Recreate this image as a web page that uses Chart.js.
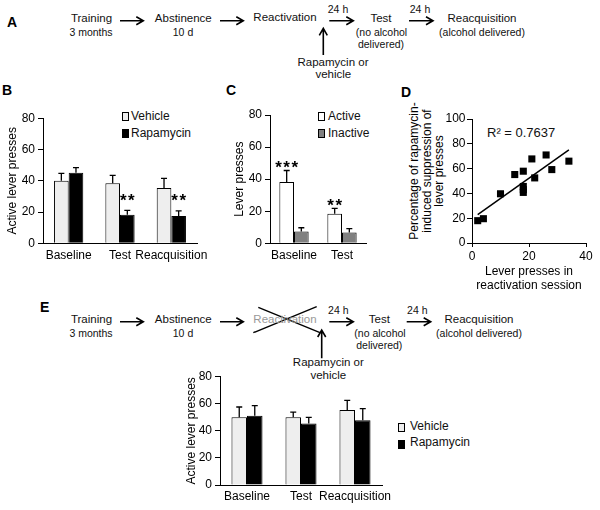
<!DOCTYPE html>
<html><head><meta charset="utf-8">
<script src="https://cdn.jsdelivr.net/npm/chart.js@4"></script>
<style>
html,body{margin:0;padding:0;background:#fff;}
#root{position:relative;width:600px;height:510px;overflow:hidden;font-family:'Liberation Sans',Arial,sans-serif;color:#111;}
.t{position:absolute;transform:translate(-50%,-50%);white-space:nowrap;line-height:1;font-size:11.5px;}
.s{font-size:10.5px;}
.h{font-size:10.5px;}
.lbl{position:absolute;font-weight:bold;font-size:14px;line-height:1;transform:translateY(-50%);color:#000;}
.lg{position:absolute;font-size:12px;line-height:1;white-space:nowrap;transform:translateY(-50%);}
.box{position:absolute;box-sizing:border-box;border:1px solid #000;width:7px;height:9px;}
canvas{position:absolute;}
#dtitle{position:absolute;left:427px;top:171px;transform:translate(-50%,-50%) rotate(-90deg);text-align:center;font-size:12px;line-height:12.5px;white-space:nowrap;color:#000;}
</style></head>
<body>
<div id="root">
<svg width="600" height="510" style="position:absolute;left:0;top:0" fill="none" stroke="#000" stroke-width="1.6">
  <path d="M120 20.7H143.3M136.3 16.7L143.3 20.7L136.3 24.7"/>
  <path d="M220 20.7H243.3M236.3 16.7L243.3 20.7L236.3 24.7"/>
  <path d="M329.3 20.7H353.3M346.3 16.7L353.3 20.7L346.3 24.7"/>
  <path d="M409 20.7H433M426 16.7L433 20.7L426 24.7"/>
  <path d="M323.3 55V28.3M319.3 35.3L323.3 28.3L327.3 35.3"/>
  <path d="M120 321.7H143.3M136.3 317.7L143.3 321.7L136.3 325.7"/>
  <path d="M220 321.7H243.3M236.3 317.7L243.3 321.7L236.3 325.7"/>
  <path d="M329.3 321.7H353.3M346.3 317.7L353.3 321.7L346.3 325.7"/>
  <path d="M406.7 321.7H430.7M423.7 317.7L430.7 321.7L423.7 325.7"/>
  <path d="M321.7 358.3V330M317.7 337L321.7 330L325.7 337"/>
  <path d="M253.3 332.7L316.7 306.7M258.3 307.3L320 332.7" stroke-width="1.4"/>
</svg>

<div class="lbl" style="left:7px;top:22px">A</div>
<div class="t" style="left:91.5px;top:19px">Training</div>
<div class="t s" style="left:91px;top:32.3px">3 months</div>
<div class="t" style="left:183.3px;top:19px">Abstinence</div>
<div class="t s" style="left:183px;top:32.3px">10 d</div>
<div class="t" style="left:285px;top:18.3px">Reactivation</div>
<div class="t h" style="left:338px;top:9px">24 h</div>
<div class="t" style="left:381px;top:19px">Test</div>
<div class="t s" style="left:381.5px;top:32.3px">(no alcohol</div>
<div class="t s" style="left:381px;top:44px">delivered)</div>
<div class="t h" style="left:420px;top:9px">24 h</div>
<div class="t" style="left:482px;top:19px">Reacquisition</div>
<div class="t s" style="left:482px;top:31.5px">(alcohol delivered)</div>
<div class="t" style="left:333px;top:62.7px">Rapamycin or</div>
<div class="t" style="left:333.3px;top:75px">vehicle</div>

<div class="lbl" style="left:2px;top:90px">B</div>
<div class="lbl" style="left:226px;top:90px">C</div>
<div class="lbl" style="left:401px;top:92px">D</div>

<div class="lbl" style="left:40px;top:307px">E</div>
<div class="t" style="left:91.5px;top:320px">Training</div>
<div class="t s" style="left:91px;top:333.3px">3 months</div>
<div class="t" style="left:183.3px;top:320px">Abstinence</div>
<div class="t s" style="left:183px;top:333.3px">10 d</div>
<div class="t" style="left:285px;top:320px;color:#999">Reactivation</div>
<div class="t h" style="left:338.3px;top:310px">24 h</div>
<div class="t" style="left:379.3px;top:320px">Test</div>
<div class="t s" style="left:380px;top:333.3px">(no alcohol</div>
<div class="t s" style="left:379.3px;top:345px">delivered)</div>
<div class="t h" style="left:417.3px;top:310px">24 h</div>
<div class="t" style="left:479px;top:320px">Reacquisition</div>
<div class="t s" style="left:479px;top:332.5px">(alcohol delivered)</div>
<div class="t" style="left:328.3px;top:362.7px">Rapamycin or</div>
<div class="t" style="left:328.3px;top:376px">vehicle</div>

<div class="box" style="left:122px;top:111.5px;background:#eeeeee"></div>
<div class="lg" style="left:131px;top:115.5px">Vehicle</div>
<div class="box" style="left:122px;top:129px;background:#000"></div>
<div class="lg" style="left:131px;top:133px">Rapamycin</div>

<div class="box" style="left:318px;top:111.5px;background:#fff"></div>
<div class="lg" style="left:328px;top:115.5px">Active</div>
<div class="box" style="left:318px;top:129px;background:#808080"></div>
<div class="lg" style="left:328px;top:133px">Inactive</div>

<div class="box" style="left:398px;top:423px;background:#eeeeee"></div>
<div class="lg" style="left:410px;top:426px">Vehicle</div>
<div class="box" style="left:398px;top:440px;background:#000"></div>
<div class="lg" style="left:410px;top:442px">Rapamycin</div>

<div class="lg" style="left:487px;top:131.7px;font-size:13px">R² = 0.7637</div>
<div id="dtitle">Percentage of rapamycin-<br>induced suppression of<br>lever presses</div>

<canvas id="cB" width="215" height="165" style="left:0px;top:100px"></canvas>
<canvas id="cC" width="150" height="165" style="left:220px;top:100px"></canvas>
<canvas id="cD" width="195" height="196" style="left:400px;top:100px"></canvas>
<canvas id="cE" width="225" height="150" style="left:170px;top:360px"></canvas>
</div>

<script>
// ---- data ----
const barCategories = ['Baseline', 'Test', 'Reacquisition'];
const bVehicle = [40, 38.4, 35.4];
const bVehicleErr = [4.8, 5.1, 6.2];
const bRapamycin = [45.2, 18.3, 17.5];
const bRapamycinErr = [3.2, 2.8, 3.2];
const bRapamycinStars = ['', '**', '**'];

const cCategories = ['Baseline', 'Test'];
const cActive = [38.3, 18.4];
const cActiveErr = [7.1, 3.4];
const cActiveStars = ['***', '**'];
const cInactive = [7.3, 6.8];
const cInactiveErr = [2.4, 2.3];

const dLeverPresses = [2, 4, 10, 15, 18, 18, 18, 18, 21, 22, 26, 28, 34];
const dSuppression = [18, 19.6, 39.7, 55.2, 57.9, 45.6, 43, 40.8, 67.8, 52.5, 71, 59.2, 66];
const dTrendX = [2, 34];
const dTrendY = [22.8, 75.1];

const eVehicle = [50, 50, 55.4];
const eVehicleErr = [7.6, 3.9, 7.1];
const eRapamycin = [51.2, 45.5, 47.8];
const eRapamycinErr = [7.4, 4.5, 8.6];

const barTicks = [0, 20, 40, 60, 80];
const dYTicks = [0, 20, 40, 60, 80, 100];
const dXTicks = [0, 20, 40];

// ---- setup ----
Chart.defaults.font.family = "'Liberation Sans', Arial, sans-serif";
Chart.defaults.font.size = 12;
Chart.defaults.color = '#000';

const errorBars = {
  id: 'errorBars',
  afterDatasetsDraw(chart) {
    const ctx = chart.ctx;
    const yS = chart.scales.y;
    chart.data.datasets.forEach((ds, i) => {
      if (!ds.errors) return;
      const meta = chart.getDatasetMeta(i);
      meta.data.forEach((bar, j) => {
        const top = yS.getPixelForValue(ds.data[j] + ds.errors[j]);
        ctx.save();
        ctx.strokeStyle = '#000';
        ctx.lineWidth = 1.3;
        ctx.beginPath();
        ctx.moveTo(bar.x, bar.y);
        ctx.lineTo(bar.x, top);
        ctx.moveTo(bar.x - 3, top);
        ctx.lineTo(bar.x + 3, top);
        ctx.stroke();
        if (ds.stars && ds.stars[j]) {
          ctx.fillStyle = '#000';
          ctx.font = "bold 17px 'Liberation Sans', Arial, sans-serif";
          ctx.letterSpacing = '1.5px';
          ctx.textAlign = 'center';
          ctx.textBaseline = 'alphabetic';
          ctx.fillText(ds.stars[j], bar.x + 0.75, top - ds.starGap + 9.5);
        }
        ctx.restore();
      });
    });
  }
};

function yAxis(ticks, width, titleText, titlePad, tickLen, tickPad) {
  return {
    min: ticks[0], max: ticks[ticks.length - 1],
    afterBuildTicks(s) { s.ticks = ticks.map(v => ({value: v})); },
    ticks: {padding: tickPad, color: '#000', font: {size: 12}},
    grid: {drawOnChartArea: false, drawTicks: true, tickLength: tickLen, color: '#000', lineWidth: 1},
    border: {display: true, color: '#000', width: 1},
    title: titleText ? {display: true, text: titleText, color: '#000', font: {size: 12}, padding: {top: titlePad, bottom: 0}} : {display: false},
    afterFit(s) { s.width = width; s.paddingTop = 0; s.paddingBottom = 0; }
  };
}
function xCat(height, pad) {
  return {
    offset: true,
    grid: {display: false, drawTicks: false},
    border: {display: true, color: '#000', width: 1},
    ticks: {padding: pad, color: '#000', font: {size: 12}, maxRotation: 0, autoSkip: false},
    afterFit(s) { s.height = height; s.paddingLeft = 0; s.paddingRight = 0; }
  };
}
function barChart(id, labels, datasets, pad, yA, xA) {
  return new Chart(document.getElementById(id), {
    type: 'bar',
    data: {labels, datasets},
    options: {
      responsive: false, animation: false,
      layout: {padding: pad},
      plugins: {legend: {display: false}, tooltip: {enabled: false}},
      scales: {x: xA, y: yA}
    },
    plugins: [errorBars]
  });
}

// B
barChart('cB', barCategories, [
  {data: bVehicle, errors: bVehicleErr, backgroundColor: '#eeeeee', borderColor: '#000', borderWidth: 1, barPercentage: 1, categoryPercentage: 0.57},
  {data: bRapamycin, errors: bRapamycinErr, stars: bRapamycinStars, starGap: 14, backgroundColor: '#000', borderColor: '#000', borderWidth: 1, barPercentage: 1, categoryPercentage: 0.57}
], {top: 18.3, right: 18, bottom: 0, left: 0},
  yAxis(barTicks, 43, 'Active lever presses', 5.3, 5, 3), xCat(21.7, 5.5));

// C
barChart('cC', cCategories, [
  {data: cActive, errors: cActiveErr, stars: cActiveStars, starGap: 7, backgroundColor: '#fff', borderColor: '#000', borderWidth: 1, barPercentage: 1, categoryPercentage: 0.61},
  {data: cInactive, errors: cInactiveErr, backgroundColor: '#808080', borderColor: '#000', borderWidth: 1, barPercentage: 1, categoryPercentage: 0.61}
], {top: 15, right: 4, bottom: 0, left: 0},
  yAxis(barTicks, 50, 'Lever presses', 12.3, 5, 3), xCat(21.7, 5.5));

// E
barChart('cE', barCategories, [
  {data: eVehicle, errors: eVehicleErr, backgroundColor: '#eeeeee', borderColor: '#000', borderWidth: 1, barPercentage: 1, categoryPercentage: 0.575},
  {data: eRapamycin, errors: eRapamycinErr, backgroundColor: '#000', borderColor: '#000', borderWidth: 1, barPercentage: 1, categoryPercentage: 0.575}
], {top: 16.7, right: 13, bottom: 0, left: 0},
  yAxis(barTicks, 50, 'Active lever presses', 14.8, 5, 3), xCat(25, 4.8));

// D
new Chart(document.getElementById('cD'), {
  type: 'scatter',
  data: {
    datasets: [
      {data: dLeverPresses.map((x, i) => ({x, y: dSuppression[i]})), pointStyle: 'rect', pointRadius: 5, backgroundColor: '#000', borderColor: '#000', borderWidth: 0},
      {data: dTrendX.map((x, i) => ({x, y: dTrendY[i]})), showLine: true, borderColor: '#000', borderWidth: 1.5, pointRadius: 0}
    ]
  },
  options: {
    responsive: false, animation: false,
    layout: {padding: {top: 19, right: 9, bottom: 0, left: 0}},
    plugins: {legend: {display: false}, tooltip: {enabled: false}},
    scales: {
      x: {
        type: 'linear', min: dXTicks[0], max: dXTicks[dXTicks.length - 1],
        afterBuildTicks(s) { s.ticks = dXTicks.map(v => ({value: v})); },
        ticks: {padding: 2, color: '#000', font: {size: 12}, maxRotation: 0},
        grid: {drawOnChartArea: false, drawTicks: true, tickLength: 4, color: '#000'},
        border: {display: true, color: '#000', width: 1},
        title: {display: true, text: ['Lever presses in', 'reactivation session'], color: '#000', font: {size: 12}, padding: {top: 0, bottom: 2.8}},
        afterFit(s) { s.height = 53; s.paddingLeft = 0; s.paddingRight = 0; }
      },
      y: yAxis(dYTicks, 72, null, 0, 5, 1.5)
    }
  }
});
</script>
</body></html>
